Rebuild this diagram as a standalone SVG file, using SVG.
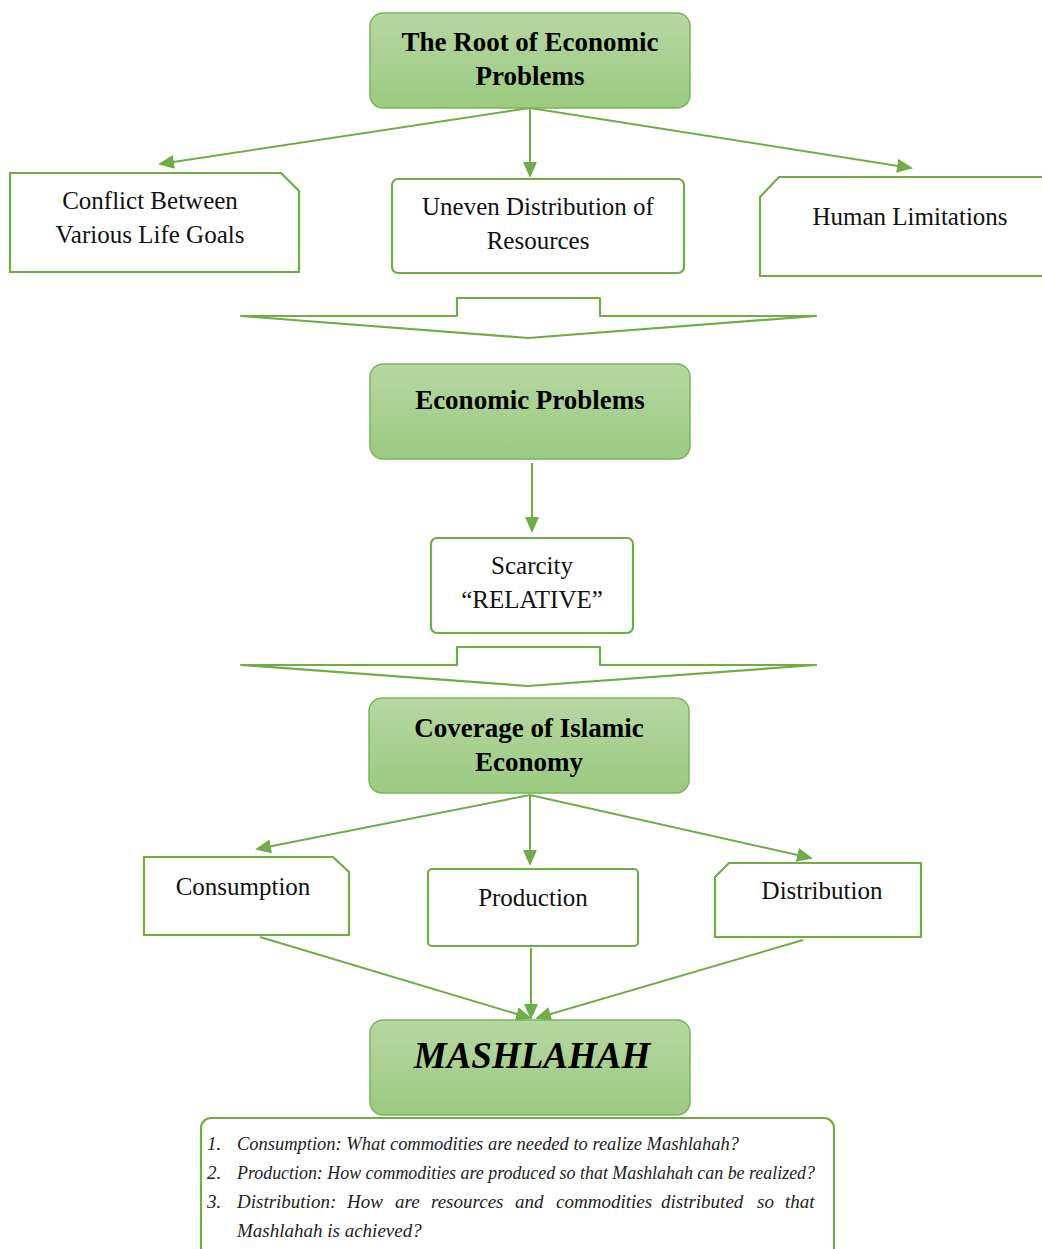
<svg xmlns="http://www.w3.org/2000/svg" width="1042" height="1249" viewBox="0 0 1042 1249">
<defs>
<linearGradient id="g" x1="0" y1="0" x2="0" y2="1">
<stop offset="0" stop-color="#b6d7a2"/>
<stop offset="1" stop-color="#9bca80"/>
</linearGradient>
<marker id="ah" markerWidth="8" markerHeight="7" refX="7" refY="3.5" orient="auto" markerUnits="strokeWidth">
<path d="M0,0 L8,3.5 L0,7 Z" fill="#70ad47"/>
</marker>
<style>
.main{fill:url(#g);stroke:#7ab55c;stroke-width:1.5}
.box{fill:#fff;stroke:#70ad47;stroke-width:2.2}
.con{stroke:#70ad47;stroke-width:2;fill:none;marker-end:url(#ah)}
.blk{fill:#fff;stroke:#70ad47;stroke-width:2.2;stroke-linejoin:round}
.bt{font-family:"Liberation Serif",serif;font-weight:bold;font-size:27px;fill:#000;text-anchor:middle}
.rt{font-family:"Liberation Serif",serif;font-size:25px;fill:#111;text-anchor:middle}
.it{font-family:"Liberation Serif",serif;font-style:italic;font-size:19px;fill:#222}
</style>
</defs>
<rect width="1042" height="1249" fill="#fff"/>
<g id="connectors">
<line class="con" x1="530" y1="108" x2="160" y2="164"/>
<line class="con" x1="530" y1="108" x2="530" y2="176"/>
<line class="con" x1="530" y1="108" x2="911" y2="168"/>
<line class="con" x1="532" y1="463" x2="532" y2="531"/>
<line class="con" x1="530" y1="795" x2="257" y2="849"/>
<line class="con" x1="530" y1="795" x2="530" y2="864"/>
<line class="con" x1="530" y1="795" x2="811" y2="858"/>
<line class="con" x1="260" y1="937" x2="530" y2="1018"/>
<line class="con" x1="531" y1="948" x2="531" y2="1018"/>
<line class="con" x1="803" y1="940" x2="537" y2="1018"/>
</g>
<g id="blockarrow1">
<path class="blk" d="M241,316 L457,316 L457,298 L600,298 L600,316 L816,316 L528,338 Z"/>
</g>
<g id="blockarrow2">
<path class="blk" d="M241,665 L457,665 L457,647 L600,647 L600,665 L816,665 L528,686 Z"/>
</g>
<g id="root">
<rect class="main" x="370" y="13" width="320" height="95" rx="13"/>
<text class="bt" x="530" y="51">The Root of Economic</text>
<text class="bt" x="530" y="85">Problems</text>
</g>
<g id="conflict">
<path class="box" d="M10,173 L281,173 L299,191 L299,272 L10,272 Z"/>
<text class="rt" x="150" y="209">Conflict Between</text>
<text class="rt" x="150" y="243">Various Life Goals</text>
</g>
<g id="uneven">
<rect class="box" x="392" y="179" width="292" height="94" rx="6"/>
<text class="rt" x="538" y="215">Uneven Distribution of</text>
<text class="rt" x="538" y="249">Resources</text>
</g>
<g id="human">
<path class="box" d="M760,197 L779,177 L1044,177 L1044,276 L760,276 Z"/>
<text class="rt" x="910" y="225">Human Limitations</text>
</g>
<g id="econ">
<rect class="main" x="370" y="364" width="320" height="95" rx="13"/>
<text class="bt" x="530" y="409">Economic Problems</text>
</g>
<g id="scarcity">
<rect class="box" x="431" y="538" width="202" height="95" rx="6"/>
<text class="rt" x="532" y="574">Scarcity</text>
<text class="rt" x="532" y="608">“RELATIVE”</text>
</g>
<g id="coverage">
<rect class="main" x="369" y="698" width="320" height="95" rx="13"/>
<text class="bt" x="529" y="737">Coverage of Islamic</text>
<text class="bt" x="529" y="771">Economy</text>
</g>
<g id="consumption">
<path class="box" d="M144,857 L333,857 L349,872 L349,935 L144,935 Z"/>
<text class="rt" x="243" y="895">Consumption</text>
</g>
<g id="production">
<rect class="box" x="428" y="869" width="210" height="77" rx="4"/>
<text class="rt" x="533" y="906">Production</text>
</g>
<g id="distribution">
<path class="box" d="M715,877 L729,863 L921,863 L921,937 L715,937 Z"/>
<text class="rt" x="822" y="899">Distribution</text>
</g>
<g id="mashlahah">
<rect class="main" x="370" y="1020" width="320" height="95" rx="13"/>
<text x="532" y="1068" style="font-family:'Liberation Serif',serif;font-weight:bold;font-style:italic;font-size:37px;text-anchor:middle;fill:#000">MASHLAHAH</text>
</g>
<g id="notes">
<rect class="box" x="201" y="1118" width="633" height="140" rx="10"/>
<text class="it" x="207" y="1150">1.</text>
<text class="it" x="237" y="1150" textLength="502" lengthAdjust="spacingAndGlyphs">Consumption: What commodities are needed to realize Mashlahah?</text>
<text class="it" x="207" y="1179">2.</text>
<text class="it" x="237" y="1179" textLength="578" lengthAdjust="spacingAndGlyphs">Production: How commodities are produced so that Mashlahah can be realized?</text>
<text class="it" x="207" y="1208">3.</text>
<text class="it" y="1208"><tspan x="237">Distribution:</tspan><tspan x="347">How</tspan><tspan x="395">are</tspan><tspan x="431">resources</tspan><tspan x="515">and</tspan><tspan x="556">commodities</tspan><tspan x="661">distributed</tspan><tspan x="757">so</tspan><tspan x="785">that</tspan></text>
<text class="it" x="237" y="1237">Mashlahah is achieved?</text>
</g>
</svg>
